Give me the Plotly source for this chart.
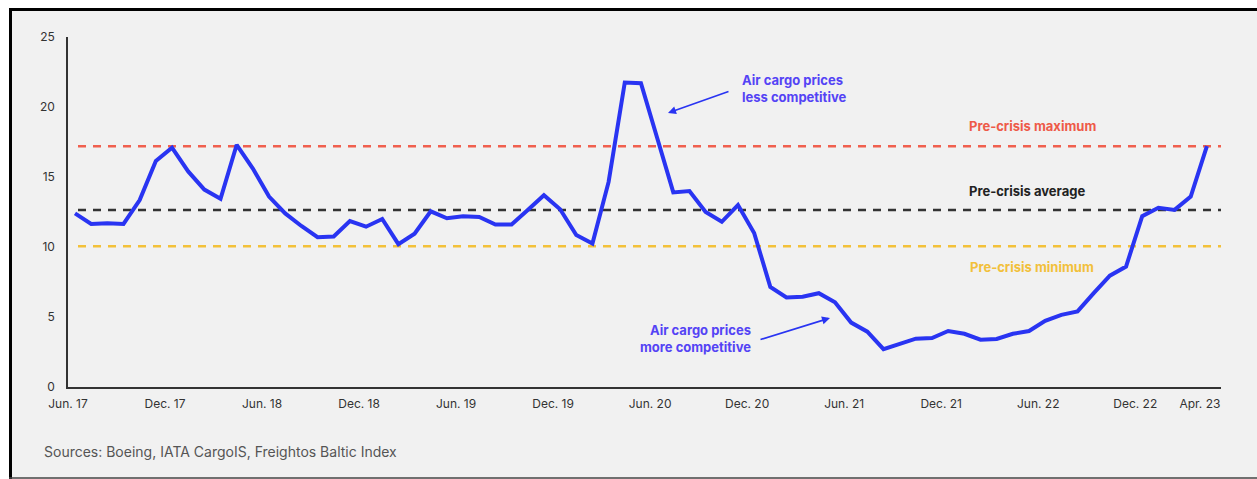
import plotly.graph_objects as go

# ---- data ----
months = ["Jun. 17","Jul. 17","Aug. 17","Sep. 17","Oct. 17","Nov. 17","Dec. 17","Jan. 18","Feb. 18","Mar. 18",
          "Apr. 18","May 18","Jun. 18","Jul. 18","Aug. 18","Sep. 18","Oct. 18","Nov. 18","Dec. 18","Jan. 19",
          "Feb. 19","Mar. 19","Apr. 19","May 19","Jun. 19","Jul. 19","Aug. 19","Sep. 19","Oct. 19","Nov. 19",
          "Dec. 19","Jan. 20","Feb. 20","Mar. 20","Apr. 20","May 20","Jun. 20","Jul. 20","Aug. 20","Sep. 20",
          "Oct. 20","Nov. 20","Dec. 20","Jan. 21","Feb. 21","Mar. 21","Apr. 21","May 21","Jun. 21","Jul. 21",
          "Aug. 21","Sep. 21","Oct. 21","Nov. 21","Dec. 21","Jan. 22","Feb. 22","Mar. 22","Apr. 22","May 22",
          "Jun. 22","Jul. 22","Aug. 22","Sep. 22","Oct. 22","Nov. 22","Dec. 22","Jan. 23","Feb. 23","Mar. 23","Apr. 23"]
values = [12.4, 11.65, 11.7, 11.65, 13.35, 16.15, 17.1, 15.4, 14.1, 13.45,
          17.3, 15.6, 13.6, 12.4, 11.5, 10.7, 10.75, 11.85, 11.45, 12.0,
          10.2, 10.95, 12.55, 12.05, 12.2, 12.15, 11.6, 11.6, 12.65, 13.7,
          12.7, 10.85, 10.25, 14.65, 21.75, 21.7, 17.8, 13.9, 14.0, 12.5,
          11.8, 13.0, 11.0, 7.15, 6.4, 6.45, 6.7, 6.05, 4.6, 3.95,
          2.7, 3.05, 3.45, 3.5, 4.0, 3.8, 3.38, 3.43, 3.8, 4.0,
          4.72, 5.15, 5.4, 6.7, 7.95, 8.6, 12.2, 12.8, 12.65, 13.6, 17.2]
tick_labels = ["Jun. 17","Dec. 17","Jun. 18","Dec. 18","Jun. 19","Dec. 19","Jun. 20",
               "Dec. 20","Jun. 21","Dec. 21","Jun. 22","Dec. 22","Apr. 23"]
ref_names = ["Pre-crisis maximum", "Pre-crisis average", "Pre-crisis minimum"]
ref_values = [17.2, 12.65, 10.05]

# ---- geometry helpers (pixel -> data / paper) ----
W, H = 1257, 479
L, R, T, B = 68, 36, 37, 92
PX0, PXS = 75.0, 16.17          # pixel of first point, px per month
PLOT_W = W - L - R
PLOT_H = H - T - B

def px2x(px):
    return (px - PX0) / PXS

def py2y(py):
    return (H - B - py) / PLOT_H * 25

def px2p(px):
    return (px - L) / PLOT_W

def py2p(py):
    return (H - B - py) / PLOT_H

idx = list(range(len(values)))
label_idx = [months.index(t) for t in tick_labels]

ref_colors = ["#F0604F", "#333333", "#F3C13A"]
ref_text_colors = ["#EE5A48", "#222222", "#F2C03A"]
ref_label_px = [(1032, 126), (1027, 191), (1032, 267)]

FONT = "Inter, Roboto, sans-serif"
LINE_BLUE = "#2934F2"
TEXT_BLUE = "#5443F5"

fig = go.Figure()

# reference lines
for v, c in zip(ref_values, ref_colors):
    fig.add_trace(go.Scatter(
        x=[px2x(78), px2x(1222)], y=[v, v], mode="lines",
        line=dict(color=c, width=2.5, dash="8px,7px"),
        hoverinfo="skip", showlegend=False))

fig.add_trace(go.Scatter(
    x=idx, y=values, mode="lines",
    line=dict(color=LINE_BLUE, width=4),
    showlegend=False, cliponaxis=False))

annotations = []
for name, tc, (cx, cy) in zip(ref_names, ref_text_colors, ref_label_px):
    annotations.append(dict(x=px2x(cx), y=py2y(cy), xref="x", yref="y", text="<b>" + name + "</b>",
                            showarrow=False, font=dict(family=FONT, size=13, color=tc),
                            xanchor="center", yanchor="middle"))

annotations.append(dict(x=px2x(740), y=py2y(88.5), xref="x", yref="y",
                        text="<b>Air cargo prices<br>less competitive</b>", align="left",
                        showarrow=False, font=dict(family=FONT, size=13, color=TEXT_BLUE),
                        xanchor="left", yanchor="middle"))
annotations.append(dict(x=px2x(753), y=py2y(338.5), xref="x", yref="y",
                        text="<b>Air cargo prices<br>more competitive</b>", align="right",
                        showarrow=False, font=dict(family=FONT, size=13, color=TEXT_BLUE),
                        xanchor="right", yanchor="middle"))
# arrows
for (tx, ty), (hx, hy) in [((730, 91), (668, 113)), ((759, 340), (830, 318))]:
    annotations.append(dict(x=px2x(hx), y=py2y(hy), ax=px2x(tx), ay=py2y(ty),
                            xref="x", yref="y", axref="x", ayref="y", text="",
                            showarrow=True, arrowhead=2, arrowsize=1, arrowwidth=1.6,
                            arrowcolor=LINE_BLUE, standoff=0, startstandoff=0))
# sources
annotations.append(dict(x=px2p(42), y=py2p(451), xref="paper", yref="paper",
                        text="Sources: Boeing, IATA CargoIS, Freightos Baltic Index",
                        showarrow=False, font=dict(family=FONT, size=14, color="#555555"),
                        xanchor="left", yanchor="middle"))

shapes = [
    # white margin above frame and left of frame
    dict(type="rect", xref="paper", yref="paper", x0=px2p(-5), x1=px2p(W + 5), y0=py2p(-5), y1=py2p(8),
         fillcolor="white", line=dict(width=0), layer="above"),
    dict(type="rect", xref="paper", yref="paper", x0=px2p(-5), x1=px2p(9), y0=py2p(H + 5), y1=py2p(-5),
         fillcolor="white", line=dict(width=0), layer="above"),
    # frame lines
    dict(type="line", xref="paper", yref="paper", x0=px2p(9), x1=px2p(W + 5), y0=py2p(9.5), y1=py2p(9.5),
         line=dict(color="black", width=3), layer="above"),
    dict(type="line", xref="paper", yref="paper", x0=px2p(10.5), x1=px2p(10.5), y0=py2p(8), y1=py2p(H + 5),
         line=dict(color="black", width=3), layer="above"),
    dict(type="line", xref="paper", yref="paper", x0=px2p(9), x1=px2p(W + 5), y0=py2p(478), y1=py2p(478),
         line=dict(color="#444444", width=1.5), layer="above"),
]

fig.update_layout(
    width=W, height=H,
    margin=dict(l=L, r=R, t=T, b=B, pad=0),
    paper_bgcolor="#F1F1F1", plot_bgcolor="#F1F1F1",
    font=dict(family=FONT, size=12, color="#333333"),
    showlegend=False,
    annotations=annotations,
    shapes=shapes,
)
fig.update_xaxes(range=[px2x(L), px2x(W - R)], showgrid=False, zeroline=False,
                 showline=True, linecolor="#333333", linewidth=1.5,
                 tickmode="array", tickvals=[i - 7 / PXS for i in label_idx], ticktext=tick_labels,
                 ticks="", ticklabelstandoff=5, tickfont=dict(family=FONT, size=12, color="#333333"))
fig.update_yaxes(range=[0, 25], showgrid=False, zeroline=False,
                 showline=True, linecolor="#333333", linewidth=1.5,
                 tickmode="array", tickvals=[0, 5, 10, 15, 20, 25],
                 ticks="", ticklabelstandoff=9, tickfont=dict(family=FONT, size=12, color="#333333"))

fig.write_html("out.html")
